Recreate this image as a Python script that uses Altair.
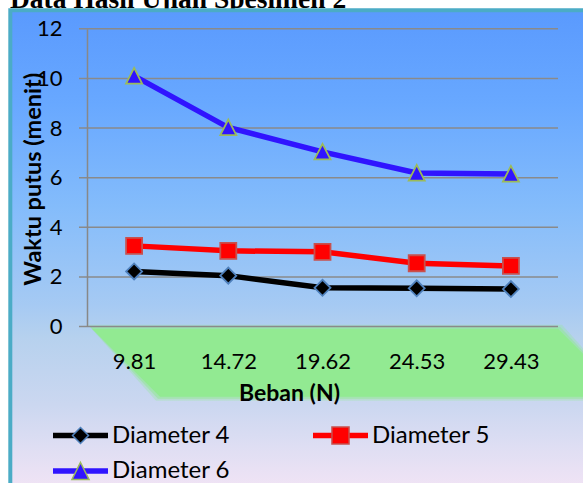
import altair as alt
import pandas as pd

# Load on the specimen (N) and failure time (minutes) for each wire diameter
beban = ["9.81", "14.72", "19.62", "24.53", "29.43"]
diameter_4 = [2.22, 2.05, 1.56, 1.54, 1.51]
diameter_5 = [3.25, 3.05, 3.01, 2.55, 2.44]
diameter_6 = [10.1, 8.02, 7.04, 6.19, 6.15]
series_names = ["Diameter 4", "Diameter 5", "Diameter 6"]
y_ticks = [0, 2, 4, 6, 8, 10, 12]

chart_title = "Data Hasil Ujian Spesimen 2"
x_title = "Beban (N)"
y_title = "Waktu putus (menit)"

# Styling
line_colors = ["#000000", "#FF0000", "#3014FF"]
marker_edges = ["#4F81BD", "#C8504D", "#9BBB59"]
marker_shapes = ["diamond", "square", "M0,-1L1,0.95L-1,0.95Z"]
BAR = "M-1,-0.096H1V0.096H-1Z"
key_markers = [
    "M0,-0.29L0.29,0L0,0.29L-0.29,0Z",
    "M-0.31,-0.31H0.31V0.31H-0.31Z",
    "M0,-0.31L0.31,0.31L-0.31,0.31Z",
]
legend_bars = [BAR + m for m in key_markers]
FONT = "Lato"
W, H = 471, 297.7

rows = []
for name, vals in zip(series_names, [diameter_4, diameter_5, diameter_6]):
    for b, v in zip(beban, vals):
        rows.append({"beban": b, "waktu": v, "seri": name})
df = pd.DataFrame(rows)

x_scale = alt.Scale(domain=beban)
y_scale = alt.Scale(domain=[0, 12], nice=False)

x_axis = alt.Axis(
    title=x_title, titleFont=FONT, titleFontWeight="bold", titleFontSize=23,
    titleColor="black", titleX=202, titleY=73.5, titleBaseline="alphabetic",
    titleAlign="center", labelFont=FONT, labelFontSize=22, labelColor="black",
    labelPadding=41.5, labelBaseline="alphabetic", labelAngle=0,
    ticks=False, tickSize=0, domain=False, grid=False, zindex=1,
)
y_axis = alt.Axis(
    title=y_title, titleFont=FONT, titleFontWeight="bold", titleFontSize=23.5,
    titleColor="black", titleX=-47, titleY=150, titleBaseline="alphabetic",
    values=y_ticks, labelFont=FONT, labelFontSize=22, labelColor="black",
    labelPadding=25, ticks=False, tickSize=0, grid=False,
    domain=True, domainColor="#888888", domainWidth=1.5, zindex=1,
)

one = pd.DataFrame({"k": [0]})

# Title, partly running off the top of the page
title = alt.Chart(pd.DataFrame({"t": [chart_title]})).mark_text(
    font="Liberation Serif", fontWeight="bold", fontSize=27.5,
    align="left", baseline="alphabetic", color="black",
).encode(text="t:N", x=alt.value(-77), y=alt.value(-21.3))

# Framed gradient backdrop
backdrop = alt.Chart(one).mark_rect(
    fill=alt.LinearGradient(
        gradient="linear", x1=0, y1=0, x2=0, y2=1,
        stops=[
            alt.GradientStop(color="#5A9AFE", offset=0.0),
            alt.GradientStop(color="#68A8FF", offset=0.18),
            alt.GradientStop(color="#84BCFB", offset=0.38),
            alt.GradientStop(color="#A6CAF3", offset=0.57),
            alt.GradientStop(color="#B6D1EE", offset=0.63),
            alt.GradientStop(color="#CBD7F0", offset=0.76),
            alt.GradientStop(color="#DEDEF3", offset=0.84),
            alt.GradientStop(color="#F3E4F5", offset=0.93),
            alt.GradientStop(color="#F8E6F6", offset=1.0),
        ],
    ),
    stroke="#4BACC6", strokeWidth=4,
).encode(x=alt.value(-76.7), x2=alt.value(540), y=alt.value(-18.5), y2=alt.value(500))


def floor_path(grow):
    g = grow
    return (f"M{5 - g},{300 - g}L{471 + g},{300 - g}"
            f"L{539 + g},{368 + g}L{73 - g},{368 + g}Z")


floor = alt.layer(*[
    alt.Chart(one).mark_point(
        shape=floor_path(g), size=4, filled=True, color="#92EA92",
        opacity=op, strokeWidth=0,
    ).encode(x=alt.value(0), y=alt.value(0))
    for g, op in [(4, 0.3), (2, 0.5), (0, 1.0)]
])

grid = alt.Chart(pd.DataFrame({"tick": y_ticks})).mark_rule(
    color="#8A8A8A", strokeWidth=1.5
).encode(
    y=alt.Y("tick:Q", scale=y_scale, axis=y_axis),
    x=alt.value(-8), x2=alt.value(W),
)

lines = alt.Chart(df).mark_line(strokeWidth=5.5).encode(
    x=alt.X("beban:N", sort=beban, scale=x_scale, axis=x_axis),
    y=alt.Y("waktu:Q", scale=y_scale, axis=y_axis),
    color=alt.Color("seri:N", scale=alt.Scale(domain=series_names, range=line_colors), legend=None),
)

markers = alt.Chart(df).mark_point(filled=True, opacity=1, strokeWidth=1.8, size=256).encode(
    x=alt.X("beban:N", sort=beban, scale=x_scale, axis=x_axis),
    y=alt.Y("waktu:Q", scale=y_scale, axis=y_axis),
    color=alt.Color("seri:N", scale=alt.Scale(domain=series_names, range=line_colors), legend=None),
    stroke=alt.Stroke("seri:N", scale=alt.Scale(domain=series_names, range=marker_edges), legend=None),
    shape=alt.Shape("seri:N", scale=alt.Scale(domain=series_names, range=marker_shapes), legend=None),
)

legend_common = dict(
    orient="none", legendX=-35, legendY=395.7, columns=2, direction="horizontal",
    title=None, symbolSize=3025, symbolStrokeWidth=1.5, symbolOpacity=1,
    labelFont=FONT, labelFontSize=24, labelColor="black", labelOffset=3,
    clipHeight=22, rowPadding=11.5, columnPadding=81, padding=0, labelLimit=0,
)
# Legend keys: a bar in the series colour with its marker on top
bar_legend = alt.Legend(symbolStrokeColor="transparent", **legend_common)
marker_legend = alt.Legend(labelOpacity=0, **legend_common)

legend_bar_keys = alt.Chart(pd.DataFrame({"seri": series_names})).mark_point(
    filled=True, opacity=0
).encode(
    x=alt.value(0), y=alt.value(0),
    fill=alt.Fill("seri:N", scale=alt.Scale(domain=series_names, range=line_colors), legend=bar_legend),
    shape=alt.Shape("seri:N", scale=alt.Scale(domain=series_names, range=legend_bars), legend=bar_legend),
)

legend_marker_keys = alt.Chart(pd.DataFrame({"seri": series_names})).mark_point(
    filled=True, opacity=0
).encode(
    x=alt.value(0), y=alt.value(0),
    fill=alt.Fill("seri:N", scale=alt.Scale(domain=series_names, range=line_colors), legend=marker_legend),
    stroke=alt.Stroke("seri:N", scale=alt.Scale(domain=series_names, range=marker_edges), legend=marker_legend),
    shape=alt.Shape("seri:N", scale=alt.Scale(domain=series_names, range=key_markers), legend=marker_legend),
)

chart = alt.layer(
    title, backdrop, floor, grid, lines, markers, legend_bar_keys, legend_marker_keys
).resolve_scale(
    shape="independent", fill="independent", stroke="independent"
).properties(
    width=W, height=H, background="white",
    padding={"left": 87, "top": 28.8, "right": 25, "bottom": 156.5},
    autosize=alt.AutoSizeParams(type="none"),
).configure_view(stroke=None)

chart.save("out.html", embed_options={"renderer": "svg", "actions": False})
